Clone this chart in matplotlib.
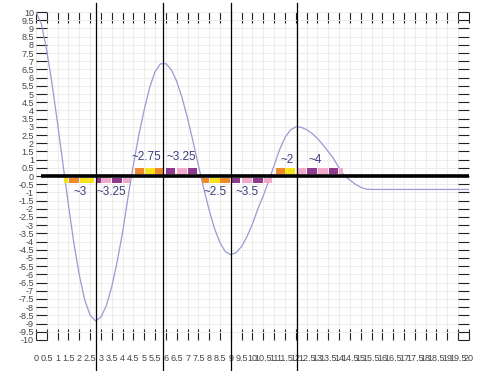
import matplotlib
matplotlib.use("Agg")
import matplotlib.pyplot as plt
from matplotlib.ticker import MultipleLocator, FormatStrFormatter

plt.rcParams["font.family"] = ["Liberation Sans", "DejaVu Sans"]

# curve
curve_x = [0, 0.25, 0.5, 0.75, 1.0, 1.25, 1.5, 1.75, 2.0, 2.25, 2.5, 2.75,
           3.0, 3.25, 3.5, 3.75, 4.0, 4.25, 4.5, 4.75, 5.0, 5.25, 5.5, 5.75,
           6.0, 6.25, 6.5, 6.75, 7.0, 7.25, 7.5, 7.75, 8.0, 8.25, 8.5, 8.75,
           9.0, 9.25, 9.5, 9.75, 10.0, 10.25, 10.5, 10.75, 11.0, 11.25, 11.5,
           11.75, 12.0, 12.25, 12.5, 12.75, 13.0, 13.25, 13.5, 13.75, 14.0,
           14.25, 14.5, 14.75, 15.0, 15.25, 15.5, 20]
curve_y = [10.0, 9.27, 7.62, 5.54, 3.17, 0.68, -1.79, -4.09, -6.04, -7.55, -8.49, -8.84,
           -8.61, -7.90, -6.75, -5.22, -3.43, -1.3, 0.7, 2.5, 4.04, 5.40, 6.36, 6.84,
           6.85, 6.48, 5.77, 4.76, 3.52, 2.13, 0.67, -0.77, -2.09, -3.22, -4.07, -4.62,
           -4.8, -4.67, -4.29, -3.69, -2.91, -2.0, -1.2, -0.3, 0.65, 1.6, 2.35,
           2.8, 3.0, 2.97, 2.83, 2.60, 2.29, 1.91, 1.49, 1.05, 0.5,
           0.0, -0.25, -0.5, -0.69, -0.8, -0.82, -0.82]

# vertical markers through the extrema
vline_x = [2.75, 5.87, 9.0, 12.05]

# coloured blocks along the zero line
block_start = [1.27, 1.5, 2.0, 2.75, 3.0, 3.5, 4.0,
               4.55, 5.0, 5.5, 6.0, 6.5, 7.0,
               7.67, 8.0, 8.5, 9.0, 9.5, 10.0, 10.5,
               11.05, 11.5, 12.05, 12.5, 13.0, 13.5, 13.97]
block_end = [1.5, 2.0, 2.7, 3.0, 3.5, 4.0, 4.35,
             5.0, 5.5, 5.87, 6.45, 7.0, 7.45,
             8.0, 8.5, 9.0, 9.45, 10.0, 10.5, 10.9,
             11.5, 12.0, 12.5, 13.0, 13.5, 13.97, 14.2]
block_color = ["yellow", "orange", "yellow", "purple", "pink", "purple", "pink",
               "orange", "yellow", "orange", "purple", "pink", "purple",
               "orange", "yellow", "orange", "purple", "pink", "purple", "pink",
               "orange", "yellow", "pink", "purple", "pink", "purple", "pink"]
block_side = [-1] * 7 + [1] * 6 + [-1] * 7 + [1] * 7

# annotations
label_text = ["~3", "~3.25", "~2.75", "~3.25", "~2.5", "~3.5", "~2", "~4"]
label_x = [2.03, 3.46, 5.08, 6.7, 8.27, 9.74, 11.6, 12.9]
label_y = [-1.0, -1.0, 1.15, 1.15, -1.0, -1.0, 1.0, 1.0]

PALETTE = {
    "yellow": "#F7E21C",
    "orange": "#EF8A2C",
    "purple": "#8E3B8E",
    "pink": "#F2A9CB",
}

fig = plt.figure(figsize=(4.8, 3.71), dpi=100)
ax = fig.add_axes([0.075, 0.0836, 0.902, 0.884])
ax.set_xlim(0, 20)
ax.set_ylim(-10, 10)

ax.xaxis.set_major_locator(MultipleLocator(0.5))
ax.yaxis.set_major_locator(MultipleLocator(0.5))
ax.xaxis.set_major_formatter(FormatStrFormatter("%g"))
ax.yaxis.set_major_formatter(FormatStrFormatter("%g"))
ax.grid(True, color="#EDEDED", lw=0.8)
ax.set_axisbelow(True)
for s in ax.spines.values():
    s.set_visible(False)
ax.tick_params(direction="in", length=8, width=0.8, color="#222222",
               top=True, right=True, labelsize=6.5, labelcolor="#444444")
ax.tick_params(axis="x", pad=10)
ax.tick_params(axis="y", pad=1.5)

ax.plot(curve_x, curve_y, color="#9A9AD4", lw=0.9, zorder=3)

for x0, x1, c, side in zip(block_start, block_end, block_color, block_side):
    lo, hi = (0.14, 0.47) if side > 0 else (-0.45, -0.12)
    ax.fill_between([x0 + 0.02, x1 - 0.02], lo, hi, color=PALETTE[c], lw=0, zorder=4)

ax.plot([0.22, 20], [0, 0], color="black", lw=2.6, zorder=5, solid_capstyle="butt")

for vx in vline_x:
    ax.axvline(vx, ymin=-0.095, ymax=1.027, color="black", lw=0.9,
               clip_on=False, zorder=6)

for t, lx, ly in zip(label_text, label_x, label_y):
    ax.text(lx, ly, t, ha="center", va="center", fontsize=8.5,
            color="#3E3E7E", zorder=7)

fig.savefig("out.png", dpi=100)
